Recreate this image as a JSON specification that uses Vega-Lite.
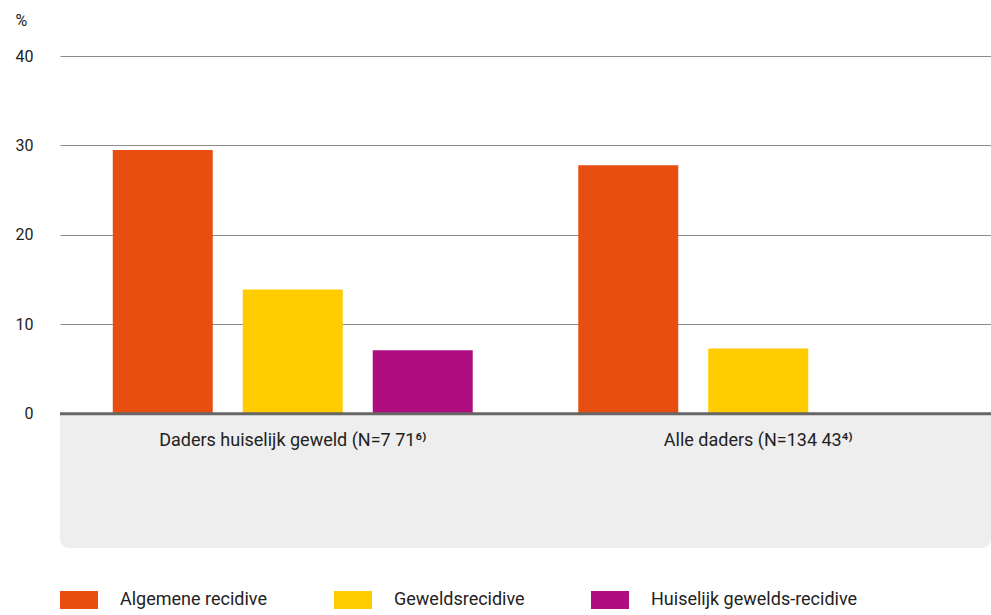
{
  "$schema": "https://vega.github.io/schema/vega-lite/v6.json",
  "width": 931,
  "height": 492,
  "autosize": {"type": "none"},
  "padding": {"left": 60, "top": 56, "right": 0, "bottom": 67},
  "background": "white",
  "config": {
    "view": {"stroke": null},
    "font": "Roboto",
    "text": {"font": "Roboto"}
  },
  "datasets": {
    "bars": [
      {"groep": "Daders huiselijk geweld (N=7 71⁶⁾", "reeks": "Algemene recidive", "waarde": 29.5},
      {"groep": "Daders huiselijk geweld (N=7 71⁶⁾", "reeks": "Geweldsrecidive", "waarde": 13.9},
      {"groep": "Daders huiselijk geweld (N=7 71⁶⁾", "reeks": "Huiselijk gewelds-recidive", "waarde": 7.1},
      {"groep": "Alle daders (N=134 43⁴⁾", "reeks": "Algemene recidive", "waarde": 27.8},
      {"groep": "Alle daders (N=134 43⁴⁾", "reeks": "Geweldsrecidive", "waarde": 7.3}
    ],
    "band": [{"van": -15, "tot": 0}],
    "labels": [
      {"groep": "Daders huiselijk geweld (N=7 71⁶⁾", "pos": -3},
      {"groep": "Alle daders (N=134 43⁴⁾", "pos": -3}
    ]
  },
  "layer": [
    {
      "data": {"name": "band"},
      "mark": {"type": "rect", "color": "#eeeeee", "cornerRadiusBottomLeft": 9, "cornerRadiusBottomRight": 9},
      "encoding": {
        "y": {"field": "van", "type": "quantitative", "scale": {"domain": [-15, 40], "nice": false, "zero": false}},
        "y2": {"field": "tot"}
      }
    },
    {
      "data": {"name": "bars"},
      "mark": {"type": "bar"},
      "encoding": {
        "x": {"field": "groep", "type": "nominal", "sort": null,
              "scale": {"paddingInner": 0, "paddingOuter": 0},
              "axis": null},
        "xOffset": {"field": "reeks", "type": "nominal",
                    "scale": {"domain": ["Algemene recidive", "Geweldsrecidive", "Huiselijk gewelds-recidive"], "paddingInner": 0.2308, "paddingOuter": 0.406}},
        "y": {"field": "waarde", "type": "quantitative",
              "scale": {"domain": [-15, 40], "nice": false, "zero": false},
              "axis": {
                "values": [0, 10, 20, 30, 40],
                "grid": true, "gridColor": "#8c8c8c", "gridWidth": 1,
                "domain": false, "ticks": false,
                "labelPadding": 27, "labelFontSize": 16, "labelColor": "#222222",
                "title": "%", "titleAngle": 0, "titleAlign": "left", "titleBaseline": "alphabetic",
                "titleX": -45, "titleY": -31, "titleFontSize": 16, "titleFontWeight": "normal", "titleColor": "#222222"
              }},
        "color": {"field": "reeks", "type": "nominal",
                  "scale": {"domain": ["Algemene recidive", "Geweldsrecidive", "Huiselijk gewelds-recidive"],
                            "range": ["#E84E0F", "#FFCC00", "#AF0E80"]},
                  "legend": {
                    "title": null, "orient": "none", "direction": "horizontal",
                    "legendX": 0, "legendY": 525,
                    "symbolType": "M-1,-0.47H1V0.47H-1Z", "symbolSize": 1444,
                    "symbolStrokeWidth": 0, "symbolOpacity": 1,
                    "labelFontSize": 18, "labelColor": "#222222", "labelOffset": 22, "labelLimit": 400,
                    "columnPadding": 66
                  }}
      }
    },
    {
      "data": {"name": "band"},
      "mark": {"type": "rule", "color": "#666666", "strokeWidth": 3},
      "encoding": {
        "y": {"field": "tot", "type": "quantitative"}
      }
    },
    {
      "data": {"name": "labels"},
      "mark": {"type": "text", "fontSize": 18, "color": "#222222", "baseline": "middle", "align": "center"},
      "encoding": {
        "x": {"field": "groep", "type": "nominal", "sort": null},
        "y": {"field": "pos", "type": "quantitative"},
        "text": {"field": "groep"}
      }
    }
  ]
}
